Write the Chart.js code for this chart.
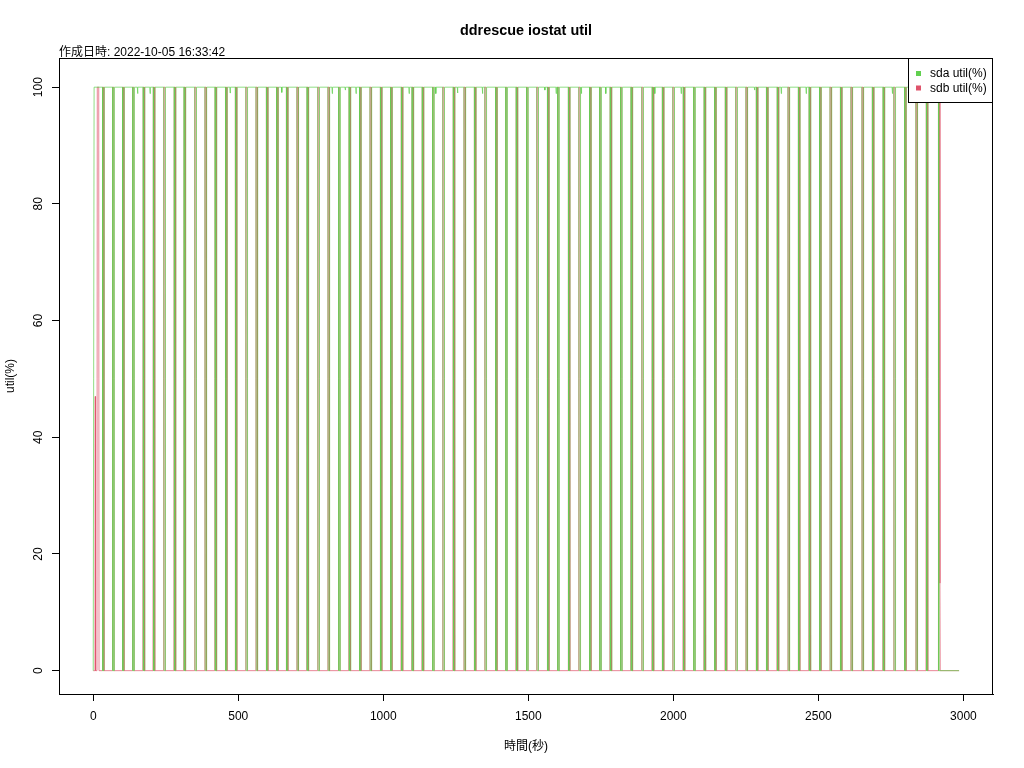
<!DOCTYPE html>
<html>
<head>
<meta charset="utf-8">
<script src="https://cdn.jsdelivr.net/npm/chart.js@4.4.1/dist/chart.umd.min.js"></script>
<style>
  html, body { margin: 0; padding: 0; background: #fff; }
</style>
</head>
<body>
<canvas id="chart" width="1024" height="768"></canvas>
<script>
const titleText = "ddrescue iostat util";
const subtitleText = "作成日時: 2022-10-05 16:33:42";
const xTitle = "時間(秒)";
const yTitle = "util(%)";
const seriesNames = ["sda util(%)", "sdb util(%)"];
const seriesColors = ["#61D04F", "#DF536B"];
const xTicks = [0, 500, 1000, 1500, 2000, 2500, 3000];
const yTicks = [0, 20, 40, 60, 80, 100];

// seconds at which each write burst starts (sdb up to 100, sda drops to 0)
const pulseStart = [
  31, 66, 100, 135, 171, 206, 242, 278, 312, 349,
  384, 419, 455, 489, 525, 560, 596, 631, 665, 701,
  736, 773, 808, 845, 881, 917, 953, 989, 1024, 1061,
  1098, 1133, 1169, 1204, 1240, 1277, 1313, 1349, 1386, 1421,
  1457, 1493, 1528, 1565, 1600, 1637, 1673, 1710, 1745, 1781,
  1817, 1853, 1890, 1926, 1961, 1997, 2033, 2069, 2105, 2141,
  2178, 2214, 2249, 2285, 2320, 2357, 2394, 2430, 2467, 2503,
  2539, 2575, 2611, 2649, 2685, 2722, 2759, 2796, 2835, 2871,
  2913
];
const pulseWidth = 5;
const endTime = 2985;

// start of the run
const sdaHeadT = [0, 2, 3];
const sdaHeadV = [0, 0, 100];
const sdbHeadT = [0, 6, 7, 8, 13, 14, 19, 20];
const sdbHeadV = [0, 0, 47, 0, 0, 100, 100, 0];

// small dips of sda below 100
const sdaDipT = [153, 196, 472, 650, 824, 869, 906, 1089, 1181, 1256, 1342,
  1557, 1596, 1683, 1767, 1936, 2027, 2280, 2372, 2458, 2755];
const sdaDipV = [98.9, 98.9, 99.0, 99.1, 98.9, 99.5, 98.9, 98.9, 98.9, 99.0, 98.9,
  99.5, 98.9, 98.9, 98.9, 98.9, 98.9, 99.5, 98.9, 98.9, 98.9];

// end of the run
const sdbTailT = [2919, 2920];
const sdbTailV = [15, 0];

function buildSda() {
  const pts = sdaHeadT.map((t, i) => ({ x: t, y: sdaHeadV[i] }));
  pulseStart.forEach((s, i) => {
    pts.push({ x: s + 1, y: 100 }, { x: s + 2, y: 0 });
    if (i < pulseStart.length - 1) {
      pts.push({ x: s + 1 + pulseWidth, y: 0 }, { x: s + 2 + pulseWidth, y: 100 });
    }
  });
  sdaDipT.forEach((t, i) => {
    pts.push({ x: t - 1, y: 100 }, { x: t, y: sdaDipV[i] }, { x: t + 1, y: 100 });
  });
  pts.push({ x: endTime, y: 0 });
  return pts.sort((a, b) => a.x - b.x);
}

function buildSdb() {
  const pts = sdbHeadT.map((t, i) => ({ x: t, y: sdbHeadV[i] }));
  pulseStart.forEach(s => {
    pts.push({ x: s, y: 0 }, { x: s + 1, y: 100 }, { x: s + pulseWidth, y: 100 });
    if (s !== pulseStart[pulseStart.length - 1]) pts.push({ x: s + pulseWidth + 1, y: 0 });
  });
  sdbTailT.forEach((t, i) => pts.push({ x: t, y: sdbTailV[i] }));
  pts.push({ x: endTime, y: 0 });
  return pts.sort((a, b) => a.x - b.x);
}

const baseFont = { family: "'Liberation Sans', Arial, 'Noto Sans CJK JP', sans-serif", size: 12 };

const frame = {
  id: "frame",
  afterDraw(chart) {
    const { ctx, chartArea: a } = chart;
    ctx.save();
    ctx.strokeStyle = "#000";
    ctx.lineWidth = 1;
    ctx.strokeRect(a.left + 0.5, a.top + 0.5, a.right - a.left - 1, a.bottom - a.top);

    ctx.fillStyle = "#000";
    ctx.textAlign = "center";
    ctx.textBaseline = "alphabetic";
    ctx.font = "bold 14.4px 'Liberation Sans', Arial, sans-serif";
    ctx.fillText(titleText, (a.left + a.right) / 2, 35);
    ctx.textAlign = "left";
    ctx.font = "12px 'Liberation Sans', 'Noto Sans CJK JP', sans-serif";
    ctx.fillText(subtitleText, a.left, 56);

    // legend, top right inside the box
    const lx = 908, ly = 58, lw = a.right - lx, lh = 44;
    ctx.fillStyle = "#fff";
    ctx.fillRect(lx, ly, lw, lh);
    ctx.strokeStyle = "#000";
    ctx.strokeRect(lx + 0.5, ly + 0.5, lw - 1, lh);
    ctx.font = "12px 'Liberation Sans', Arial, sans-serif";
    ctx.textBaseline = "middle";
    seriesNames.forEach((name, i) => {
      const y = 73.5 + i * 14.5;
      ctx.fillStyle = seriesColors[i];
      ctx.fillRect(916, y - 2.5, 5, 5);
      ctx.fillStyle = "#000";
      ctx.fillText(name, 930, y + 0.5);
    });
    ctx.restore();
  }
};

new Chart(document.getElementById("chart").getContext("2d"), {
  type: "line",
  data: {
    datasets: [
      {
        label: seriesNames[0],
        data: buildSda(),
        borderColor: "rgba(97, 208, 79, 0.7)",
        borderWidth: 1,
        pointRadius: 0,
        tension: 0,
        order: 0
      },
      {
        label: seriesNames[1],
        data: buildSdb(),
        borderColor: "rgba(223, 83, 107, 0.7)",
        borderWidth: 1,
        pointRadius: 0,
        tension: 0,
        order: 1
      }
    ]
  },
  options: {
    responsive: false,
    animation: false,
    parsing: false,
    normalized: true,
    layout: { padding: { left: 0, right: 31, top: 58, bottom: 0 } },
    plugins: {
      legend: { display: false },
      title: { display: false },
      tooltip: { enabled: false }
    },
    scales: {
      x: {
        type: "linear",
        min: -118,
        max: 3102,
        afterBuildTicks: s => { s.ticks = xTicks.map(v => ({ value: v })); },
        afterFit: s => { s.height = 74; },
        grid: { display: true, drawOnChartArea: false, drawTicks: true, tickLength: 7, color: "#000", tickColor: "#000" },
        border: { display: true, color: "#000" },
        ticks: { color: "#000", font: baseFont, padding: 8, maxRotation: 0, autoSkip: false, callback: v => String(v) },
        title: { display: true, text: xTitle, color: "#000", font: baseFont, padding: { top: 0, bottom: 14 } }
      },
      y: {
        type: "linear",
        min: -4,
        max: 105,
        afterBuildTicks: s => { s.ticks = yTicks.map(v => ({ value: v })); },
        afterFit: s => { s.width = 59; },
        grid: { display: true, drawOnChartArea: false, drawTicks: true, tickLength: 7, color: "#000", tickColor: "#000" },
        border: { display: true, color: "#000" },
        ticks: { color: "#000", font: baseFont, padding: 3, minRotation: 90, maxRotation: 90, crossAlign: "center", autoSkip: false, callback: v => String(v) },
        title: { display: true, text: yTitle, color: "#000", font: baseFont, padding: { top: 3, bottom: 0 } }
      }
    }
  },
  plugins: [frame]
});
</script>
</body>
</html>
